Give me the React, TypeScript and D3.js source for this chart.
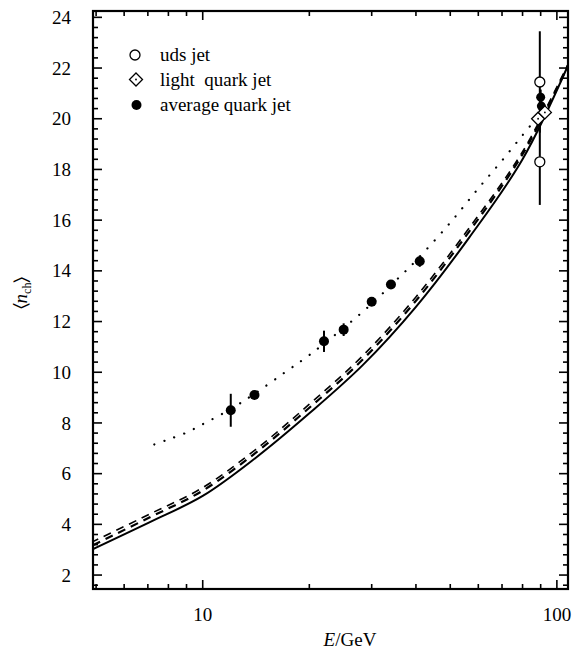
import React from "react";
import * as d3 from "d3";

const W = 578;
const H = 651;
const FRAME = { left: 93, right: 568, top: 11, bottom: 589 };
const FONT = "'Liberation Serif', 'Times New Roman', serif";

// average quark jet (filled circles)
const avgE = [12, 14, 22, 25, 30, 34, 41];
const avgN = [8.5, 9.1, 11.22, 11.68, 12.78, 13.46, 14.38];
const avgErr = [0.65, 0.15, 0.42, 0.25, 0.15, 0.15, 0.22];
const avgZE = [90.0, 90.4];
const avgZN = [20.85, 20.5];
const avgZErr = [0.3, 0.3];

// uds jet (open circles)
const udsE = [89.5, 89.5];
const udsN = [21.45, 18.3];
const udsErrUp = [2.0, 1.7];
const udsErrDown = [2.0, 1.7];

// light quark jet (open diamonds)
const lightE = [88.5, 92.5];
const lightN = [20.0, 20.25];

// dotted fit through the average quark jets
const dotE = [7.3, 8, 9, 10, 12, 14, 17, 20, 25, 30, 35, 40, 50, 60, 70, 80, 88];
const dotN = [7.15, 7.35, 7.62, 7.95, 8.55, 9.15, 9.98, 10.68, 11.75, 12.7, 13.6, 14.4, 15.9, 17.25, 18.35, 19.35, 20.05];

// solid and dashed model curves
const curveE = [4.9, 7.07, 10, 14.1, 20, 28.3, 40, 56.6, 80, 107.5];
const solidN = [3.02, 4.08, 5.12, 6.62, 8.38, 10.28, 12.58, 15.32, 18.4, 22.1];
const dashAN = [3.18, 4.27, 5.33, 6.82, 8.6, 10.5, 12.82, 15.56, 18.6, 22.1];
const dashBN = [3.32, 4.4, 5.45, 6.95, 8.74, 10.65, 12.97, 15.7, 18.7, 22.15];

const yMajor = [2, 4, 6, 8, 10, 12, 14, 16, 18, 20, 22, 24];
const xMajor = [10, 100];
const xMinor = [5, 6, 7, 8, 9, 20, 30, 40, 50, 60, 70, 80, 90];

const legendLabels = ["uds jet", "light  quark jet", "average quark jet"];

const App = () => {
  const x = d3.scaleLog().domain([4.9, 107.5]).range([FRAME.left, FRAME.right]);
  const y = d3.scaleLinear().domain([1.45, 24.25]).range([FRAME.bottom, FRAME.top]);

  const yMinor = d3.range(1.6, 24.2, 0.4).filter(
    (v) => !yMajor.some((m) => Math.abs(m - v) < 0.01)
  );

  const line = d3
    .line<[number, number]>()
    .x((d) => x(d[0]))
    .y((d) => y(d[1]))
    .curve(d3.curveCatmullRom.alpha(0.5));

  const pts = (es: number[], ns: number[]) => es.map((e, i) => [e, ns[i]] as [number, number]);

  const diamond = (cx: number, cy: number, r: number) =>
    `M${cx},${cy - r}L${cx + r},${cy}L${cx},${cy + r}L${cx - r},${cy}Z`;

  const tickW = 1.6;

  return (
    <svg
      width={W}
      height={H}
      style={{ position: "absolute", left: 0, top: 0, background: "#fff" }}
      fontFamily={FONT}
    >
      <defs>
        <clipPath id="plot">
          <rect x={FRAME.left} y={FRAME.top} width={FRAME.right - FRAME.left} height={FRAME.bottom - FRAME.top} />
        </clipPath>
      </defs>

      {/* curves */}
      <g clipPath="url(#plot)" fill="none" stroke="#000">
        <path d={line(pts(curveE, solidN)) || ""} strokeWidth={2} />
        <path d={line(pts(curveE, dashAN)) || ""} strokeWidth={2.2} strokeDasharray="8,6" />
        <path d={line(pts(curveE, dashBN)) || ""} strokeWidth={1.6} strokeDasharray="8,6" strokeDashoffset={2} />
        <path d={line(pts(dotE, dotN)) || ""} strokeWidth={2.2} strokeDasharray="0.1,10.5" strokeLinecap="round" />
      </g>

      {/* error bars */}
      <g stroke="#000" strokeWidth={2}>
        {avgE.map((e, i) => (
          <line key={"ae" + i} x1={x(e)} x2={x(e)} y1={y(avgN[i] - avgErr[i])} y2={y(avgN[i] + avgErr[i])} />
        ))}
        {avgZE.map((e, i) => (
          <line key={"aze" + i} x1={x(e)} x2={x(e)} y1={y(avgZN[i] - avgZErr[i])} y2={y(avgZN[i] + avgZErr[i])} />
        ))}
        {udsE.map((e, i) => (
          <line key={"ue" + i} x1={x(e)} x2={x(e)} y1={y(udsN[i] - udsErrDown[i])} y2={y(udsN[i] + udsErrUp[i])} />
        ))}
      </g>

      {/* markers */}
      <g>
        {avgE.map((e, i) => (
          <circle key={"a" + i} cx={x(e)} cy={y(avgN[i])} r={5} fill="#000" />
        ))}
        {avgZE.map((e, i) => (
          <circle key={"az" + i} cx={x(e)} cy={y(avgZN[i])} r={4.5} fill="#000" />
        ))}
        {udsE.map((e, i) => (
          <circle key={"u" + i} cx={x(e)} cy={y(udsN[i])} r={5} fill="#fff" stroke="#000" strokeWidth={1.3} />
        ))}
        {lightE.map((e, i) => (
          <g key={"l" + i}>
            <path d={diamond(x(e), y(lightN[i]), 6.5)} fill="#fff" stroke="#000" strokeWidth={1.3} />
            <circle cx={x(e)} cy={y(lightN[i])} r={0.9} fill="#000" />
          </g>
        ))}
      </g>

      {/* frame */}
      <rect
        x={FRAME.left}
        y={FRAME.top}
        width={FRAME.right - FRAME.left}
        height={FRAME.bottom - FRAME.top}
        fill="none"
        stroke="#000"
        strokeWidth={2.2}
      />

      {/* ticks on all four sides, pointing in */}
      <g stroke="#000" strokeWidth={tickW}>
        {yMajor.map((v) => (
          <g key={"ym" + v}>
            <line x1={FRAME.left} x2={FRAME.left + 9} y1={y(v)} y2={y(v)} />
            <line x1={FRAME.right} x2={FRAME.right - 9} y1={y(v)} y2={y(v)} />
          </g>
        ))}
        {yMinor.map((v, i) => (
          <g key={"yn" + i}>
            <line x1={FRAME.left} x2={FRAME.left + 5} y1={y(v)} y2={y(v)} />
            <line x1={FRAME.right} x2={FRAME.right - 5} y1={y(v)} y2={y(v)} />
          </g>
        ))}
        {xMajor.map((v) => (
          <g key={"xm" + v}>
            <line x1={x(v)} x2={x(v)} y1={FRAME.bottom} y2={FRAME.bottom - 9} />
            <line x1={x(v)} x2={x(v)} y1={FRAME.top} y2={FRAME.top + 9} />
          </g>
        ))}
        {xMinor.map((v) => (
          <g key={"xn" + v}>
            <line x1={x(v)} x2={x(v)} y1={FRAME.bottom} y2={FRAME.bottom - 5} />
            <line x1={x(v)} x2={x(v)} y1={FRAME.top} y2={FRAME.top + 5} />
          </g>
        ))}
      </g>

      {/* tick labels */}
      <g fontSize={19} fill="#000">
        {yMajor.map((v) => (
          <text key={"yl" + v} x={71} y={y(v)} dy="0.35em" textAnchor="end">
            {v}
          </text>
        ))}
        {xMajor.map((v) => (
          <text key={"xl" + v} x={x(v)} y={621} textAnchor="middle">
            {v}
          </text>
        ))}
      </g>

      {/* axis titles */}
      <text x={350} y={646} textAnchor="middle" fontSize={19}>
        <tspan fontStyle="italic">E</tspan>/GeV
      </text>
      <text transform="translate(27,293) rotate(-90)" textAnchor="middle" fontSize={19}>
        {"\u2329"}
        <tspan fontStyle="italic">n</tspan>
        <tspan fontSize={12} dy={4}>ch</tspan>
        <tspan dy={-4}>{"\u232A"}</tspan>
      </text>

      {/* legend */}
      <g fontSize={19}>
        <circle cx={135} cy={55} r={5} fill="#fff" stroke="#000" strokeWidth={1.3} />
        <path d={diamond(136, 79.5, 6.5)} fill="#fff" stroke="#000" strokeWidth={1.3} />
        <circle cx={136} cy={79.5} r={0.9} fill="#000" />
        <circle cx={136.5} cy={105} r={5} fill="#000" />
        {legendLabels.map((t, i) => (
          <text key={t} x={160} y={61 + i * 25} style={{ whiteSpace: "pre" }}>
            {t}
          </text>
        ))}
      </g>
    </svg>
  );
};

export default App;
